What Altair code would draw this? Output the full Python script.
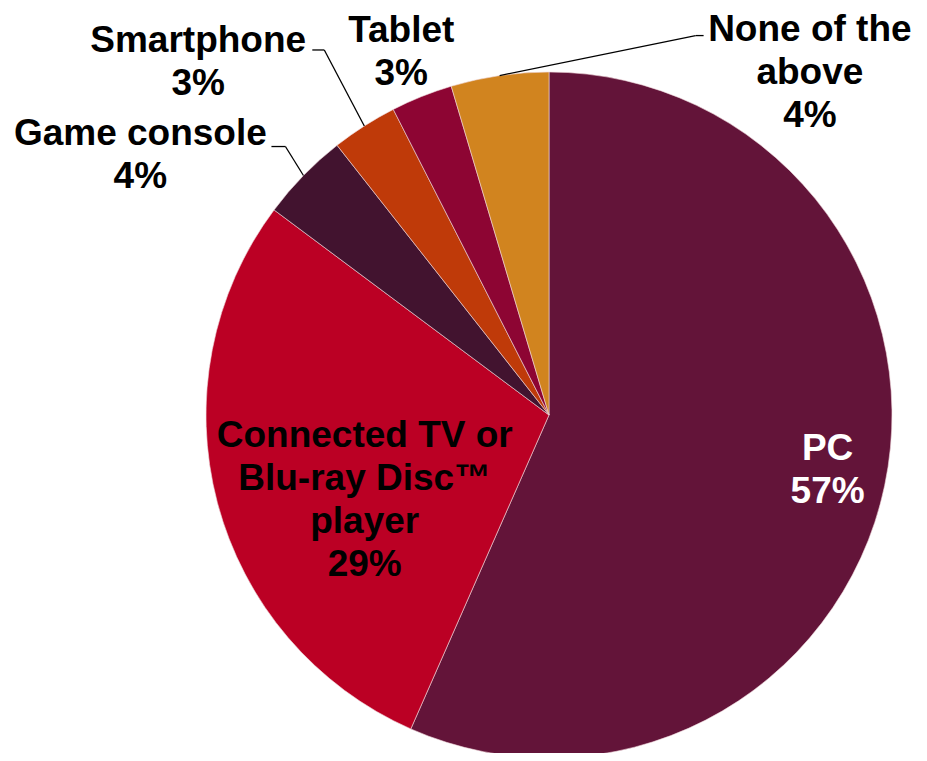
import altair as alt
import pandas as pd
import numpy as np

# ---- data ----
categories = ["PC", "Connected TV or Blu-ray Disc™ player", "Game console",
              "Smartphone", "Tablet", "None of the above"]
shares = [56.6, 28.6, 4.2, 3.1, 2.9, 4.6]          # slice sizes (percent)
pct_labels = ["57%", "29%", "4%", "3%", "3%", "4%"]  # printed labels
label_text = ["PC", "Connected TV or\nBlu-ray Disc™\nplayer", "Game console",
              "Smartphone", "Tablet", "None of the\nabove"]
colors = ["#631439", "#BB0024", "#42132F", "#BF3A09", "#8D0533", "#D1841F"]
text_colors = ["#FFFFFF", "#000000", "#000000", "#000000", "#000000", "#000000"]

# ---- layout (chart coordinates) ----
CX, CY, R = 541, 407, 343
LH = 43
# label block position as (angle in degrees clockwise from top, radius)
label_angle = [101.2, 245.2, 302.4, 315.1, 337.8, 37.35]
label_radius = [284, 203, 484, 497, 391, 430]
# leader lines: offsets (elbow, end) from the slice's outer mid point
leader = {
    "Game console": ((-18, -29), (-32, -29)),
    "Smartphone": ((-40, -76), (-52, -76)),
    "None of the above": ((196, -40), (204, -40)),
}

df = pd.DataFrame({
    "category": categories,
    "share": shares,
    "idx": range(len(categories)),
})
cum = np.cumsum(shares)
mid = (cum - np.array(shares) / 2) / sum(shares) * 2 * np.pi

full = [t + "\n" + p for t, p in zip(label_text, pct_labels)]
nlines = [s.count("\n") + 1 for s in full]
lab = pd.DataFrame({
    "text": full,
    "lx": [CX + r * np.sin(np.radians(a)) for a, r in zip(label_angle, label_radius)],
    "ly": [CY - r * np.cos(np.radians(a)) - (n - 1) * LH / 2
           for a, r, n in zip(label_angle, label_radius, nlines)],
    "fill": text_colors,
})

segs = []
for i, c in enumerate(categories):
    if c in leader:
        px = CX + R * np.sin(mid[i])
        py = CY - R * np.cos(mid[i])
        (ex, ey), (fx, fy) = leader[c]
        segs.append({"x": px, "y": py, "x2": px + ex, "y2": py + ey})
        segs.append({"x": px + ex, "y": py + ey, "x2": px + fx, "y2": py + fy})
segdf = pd.DataFrame(segs)

arcs = alt.Chart(df).mark_arc(radius=R, stroke="#f0d8dc", strokeWidth=0.6).encode(
    theta=alt.Theta("share:Q", stack=True),
    order=alt.Order("idx:Q"),
    color=alt.Color("category:N", scale=alt.Scale(domain=categories, range=colors), legend=None),
    x=alt.value(CX),
    y=alt.value(CY),
)

rules = alt.Chart(segdf).mark_rule(color="black", strokeWidth=1.3).encode(
    x=alt.X("x:Q", scale=None),
    y=alt.Y("y:Q", scale=None),
    x2="x2:Q",
    y2="y2:Q",
)

texts = alt.Chart(lab).mark_text(
    font="Liberation Sans", fontWeight="bold", fontSize=37, lineHeight=LH,
    lineBreak="\n", align="center", baseline="middle",
).encode(
    x=alt.X("lx:Q", scale=None),
    y=alt.Y("ly:Q", scale=None),
    text="text:N",
    color=alt.Color("fill:N", scale=None),
)

chart = alt.layer(arcs, rules, texts).properties(
    width=911, height=745, padding=0, autosize=alt.AutoSizeParams(type="none"),
    background="white",
).configure_view(stroke=None)

chart.save("out.html", embed_options={"renderer": "svg", "actions": False})
